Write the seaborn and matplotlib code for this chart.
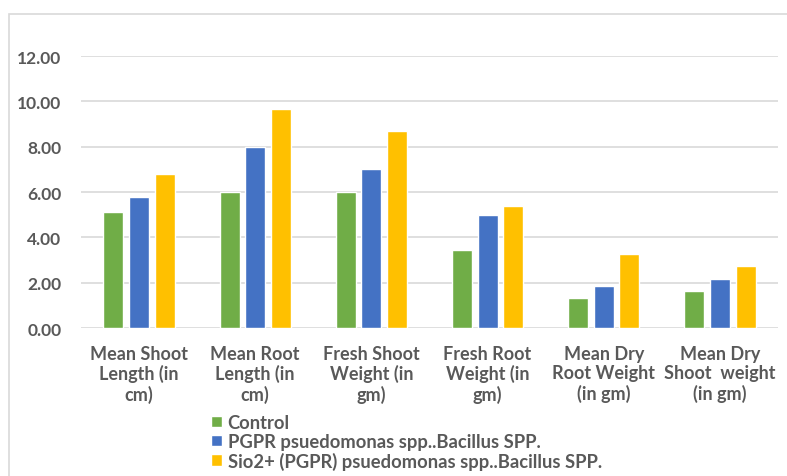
import matplotlib
matplotlib.use("Agg")
import matplotlib.pyplot as plt
import numpy as np
import pandas as pd
import seaborn as sns
from matplotlib.patches import Rectangle


traits = [
    "Mean Shoot\nLength (in\ncm)",
    "Mean Root\nLength (in\ncm)",
    "Fresh Shoot\nWeight (in\ngm)",
    "Fresh Root\nWeight (in\ngm)",
    "Mean Dry\nRoot Weight\n(in gm)",
    "Mean Dry\nShoot  weight\n(in gm)",
]
treatments = [
    "Control",
    "PGPR psuedomonas spp..Bacillus SPP.",
    "Sio2+ (PGPR) psuedomonas spp..Bacillus SPP.",
]
control = [5.10, 6.00, 6.00, 3.43, 1.32, 1.65]
pgpr = [5.77, 8.00, 7.00, 4.97, 1.87, 2.16]
sio2_pgpr = [6.80, 9.65, 8.67, 5.40, 3.26, 2.72]
y_ticks = [0, 2, 4, 6, 8, 10, 12]

colors = ["#70AD47", "#4472C4", "#FFC000"]
text_color = "#595959"
grid_color = "#D9D9D9"


def build_frame():
    rows = []
    for name, values in zip(treatments, [control, pgpr, sio2_pgpr]):
        for trait, value in zip(traits, values):
            rows.append({"trait": trait, "treatment": name, "value": value})
    return pd.DataFrame(rows)


def main():
    sns.set_style("white")
    plt.rcParams["font.family"] = ["Lato", "DejaVu Sans"]

    df = build_frame()
    fig = plt.figure(figsize=(7.87, 4.77), dpi=100)
    ax = fig.add_axes([81 / 787, 1 - 329 / 477, (778 - 81) / 787, (329 - 57) / 477])

    sns.barplot(
        data=df,
        x="trait",
        y="value",
        hue="treatment",
        palette=colors,
        width=0.663,
        gap=0.22,
        saturation=1,
        ax=ax,
    )

    ax.set_ylim(0, 12)
    ax.set_yticks(y_ticks)
    ax.set_yticklabels([f"{t:.2f}" for t in y_ticks])
    ax.set_xlabel("")
    ax.set_ylabel("")
    ax.yaxis.grid(True, color=grid_color, linewidth=1.2)
    ax.set_axisbelow(True)
    for side in ["left", "right", "top", "bottom"]:
        ax.spines[side].set_visible(False)
    ax.tick_params(axis="y", length=0, pad=14, labelsize=12.5, labelcolor=text_color)
    ax.tick_params(axis="x", length=0, pad=12, labelsize=13, labelcolor=text_color)
    for label in ax.get_xticklabels() + ax.get_yticklabels():
        label.set_fontweight("bold")
    for label in ax.get_xticklabels():
        label.set_linespacing(1.18)

    handles, labels = ax.get_legend_handles_labels()
    ax.legend_.remove()
    leg = fig.legend(
        handles,
        labels,
        loc="upper left",
        bbox_to_anchor=(211 / 787, 1 - 415 / 477),
        frameon=False,
        handlelength=0.6,
        handleheight=0.6,
        handletextpad=0.3,
        labelspacing=0.1,
        borderaxespad=0,
        borderpad=0,
        prop={"size": 13.2, "weight": "bold"},
    )
    for text in leg.get_texts():
        text.set_color(text_color)

    fig.add_artist(
        Rectangle(
            (9 / 787, -0.1),
            1.2,
            1.1 - 15 / 477,
            transform=fig.transFigure,
            fill=False,
            edgecolor=grid_color,
            linewidth=1.2,
        )
    )

    fig.savefig("out.png", dpi=100)
    plt.close(fig)


if __name__ == "__main__":
    main()
